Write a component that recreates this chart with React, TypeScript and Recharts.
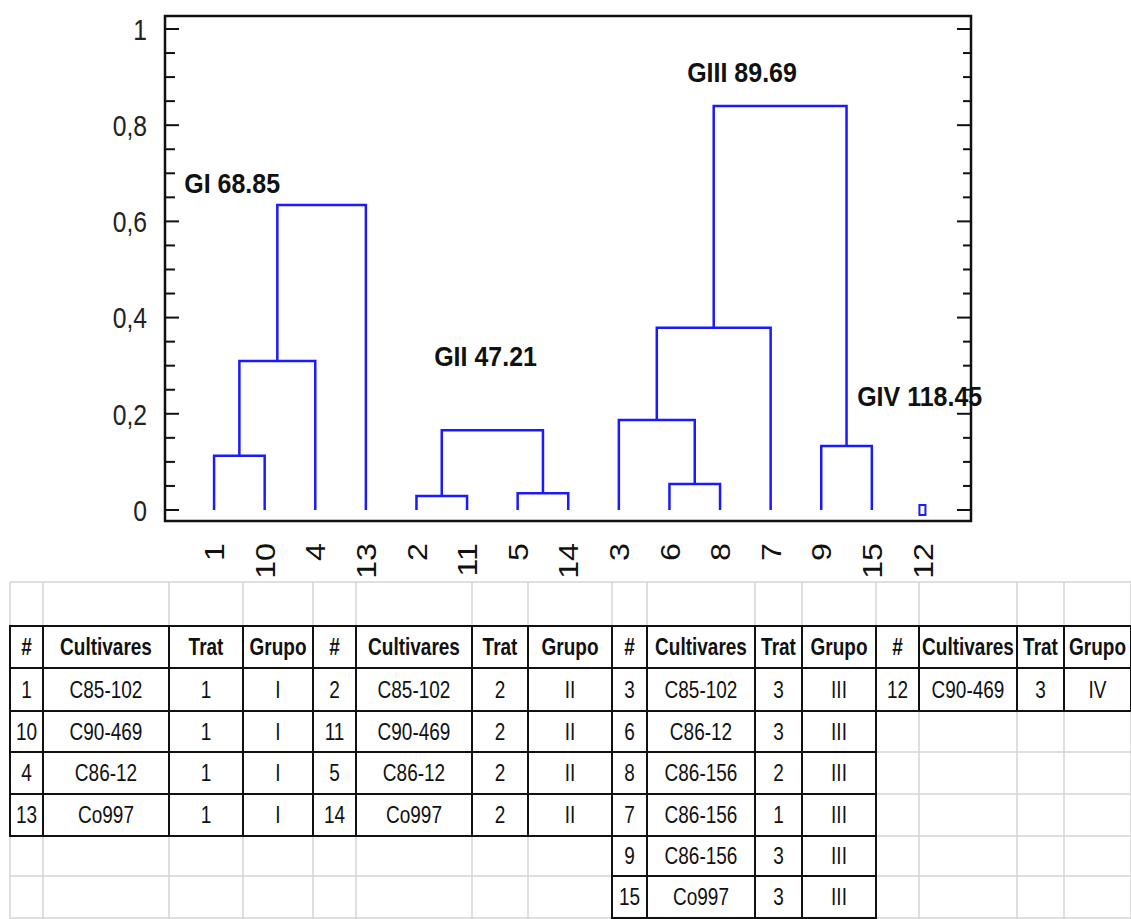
import { ComposedChart, Line, Scatter, XAxis, YAxis, ReferenceArea } from "recharts";

// leaves in dendrogram order
const leafOrder = ["1", "10", "4", "13", "2", "11", "5", "14", "3", "6", "8", "7", "9", "15", "12"];

// merges: left node, right node, distance (node "m#" = result of merge #)
const mergeLeft = ["1", "m0", "m1", "2", "5", "m3", "6", "3", "m7", "9", "m8"];
const mergeRight = ["10", "4", "13", "11", "14", "m4", "8", "m6", "7", "15", "m9"];
const mergeHeight = [0.113, 0.31, 0.634, 0.029, 0.035, 0.166, 0.054, 0.187, 0.379, 0.133, 0.84];

// leaf drawn on its own (tiny box at zero)
const isolatedLeaves = ["12"];

const groupLabels = ["GI 68.85", "GII 47.21", "GIII 89.69", "GIV 118.45"];
const groupLabelX = [-0.59, 4.35, 9.35, 12.71];
const groupLabelY = [0.659, 0.299, 0.89, 0.216];

const tableHeaders = ["#", "Cultivares", "Trat", "Grupo"];
const groupI = [
  ["1", "C85-102", "1", "I"],
  ["10", "C90-469", "1", "I"],
  ["4", "C86-12", "1", "I"],
  ["13", "Co997", "1", "I"],
];
const groupII = [
  ["2", "C85-102", "2", "II"],
  ["11", "C90-469", "2", "II"],
  ["5", "C86-12", "2", "II"],
  ["14", "Co997", "2", "II"],
];
const groupIII = [
  ["3", "C85-102", "3", "III"],
  ["6", "C86-12", "3", "III"],
  ["8", "C86-156", "2", "III"],
  ["7", "C86-156", "1", "III"],
  ["9", "C86-156", "3", "III"],
  ["15", "Co997", "3", "III"],
];
const groupIV = [["12", "C90-469", "3", "IV"]];

const PLOT_LEFT = 165;
const PLOT_RIGHT = 971;
const X_DOMAIN: [number, number] = [-0.97, 14.96];
const Y_DOMAIN: [number, number] = [-0.0229, 1.027];
const BLUE = "#1a1aff";
const FONT = "'Liberation Sans', Arial, sans-serif";

// spreadsheet grid under the chart
const colEdges = [10, 43, 169, 243, 313, 356, 472, 528, 612, 647, 755, 802, 876, 919, 1017, 1064, 1131];
const rowEdges = [582, 626, 668, 711, 752, 794, 836, 876, 918];

function buildLinks() {
  const pos: Record<string, number> = {};
  const height: Record<string, number> = {};
  leafOrder.forEach((l, i) => {
    pos[l] = i;
    height[l] = 0;
  });
  return mergeHeight.map((h, i) => {
    const a = mergeLeft[i];
    const b = mergeRight[i];
    pos["m" + i] = (pos[a] + pos[b]) / 2;
    height["m" + i] = h;
    return [
      { x: pos[a], y: height[a] },
      { x: pos[a], y: h },
      { x: pos[b], y: h },
      { x: pos[b], y: height[b] },
    ];
  });
}

const YTick = (props: any) => {
  const { y, payload } = props;
  const v = payload.value;
  const major = Math.round(v * 100) % 20 === 0;
  const label = String(Math.round(v * 10) / 10).replace(".", ",");
  return (
    <g>
      <line x1={PLOT_LEFT} x2={PLOT_LEFT + (major ? 14 : 10)} y1={y} y2={y} stroke="#111" strokeWidth={2} />
      <line x1={PLOT_RIGHT - (major ? 14 : 8)} x2={PLOT_RIGHT} y1={y} y2={y} stroke="#111" strokeWidth={2} />
      {major && (
        <text
          x={0}
          y={0}
          dy="0.36em"
          transform={`translate(147, ${y}) scale(0.95, 1.15)`}
          textAnchor="end"
          fontSize={26}
          fontFamily={FONT}
          fill="#222"
        >
          {label}
        </text>
      )}
    </g>
  );
};

const XTick = (props: any) => {
  const { x, payload } = props;
  const ty = 543;
  return (
    <text
      x={0}
      y={0}
      dy="0.36em"
      transform={`translate(${x}, ${ty}) scale(1, 1.15) rotate(-90)`}
      textAnchor="end"
      fontSize={28}
      fontFamily={FONT}
      fill="#111"
    >
      {leafOrder[payload.value]}
    </text>
  );
};

function Table({ col, rows }: { col: number; rows: string[][] }) {
  const all = [tableHeaders, ...rows];
  return (
    <g>
      {all.map((r, ri) =>
        r.map((cell, ci) => {
          const x0 = colEdges[col + ci];
          const x1 = colEdges[col + ci + 1];
          const y0 = rowEdges[1 + ri];
          const y1 = rowEdges[2 + ri];
          return (
            <g key={ri + "-" + ci}>
              <rect x={x0} y={y0} width={x1 - x0} height={y1 - y0} fill="white" stroke="#111" strokeWidth={2} />
              <text
                x={0}
                y={0}
                dy="0.36em"
                transform={`translate(${(x0 + x1) / 2}, ${(y0 + y1) / 2}) scale(0.95, 1.15)`}
                textAnchor="middle"
                fontSize={20}
                fontWeight={ri === 0 ? "bold" : "normal"}
                fontFamily={FONT}
                fill="#111"
              >
                {cell}
              </text>
            </g>
          );
        })
      )}
    </g>
  );
}

export default function App() {
  const links = buildLinks();
  const labelData = groupLabels.map((t, i) => ({ x: groupLabelX[i], y: groupLabelY[i], t }));
  const isolatedData = isolatedLeaves.map((l) => ({ x: leafOrder.indexOf(l), y: 0 }));
  const yTicks = Array.from({ length: 21 }, (_, i) => Math.round(i * 5) / 100);

  return (
    <div style={{ position: "absolute", left: 0, top: 0, width: 1131, height: 919, background: "white" }}>
      <div style={{ position: "absolute", left: 0, top: 0, width: 1131, height: 582, overflow: "hidden" }}>
        <ComposedChart width={1131} height={583} margin={{ top: 16, right: 160, bottom: 0, left: 0 }}>
          <XAxis
            dataKey="x"
            type="number"
            domain={X_DOMAIN}
            ticks={leafOrder.map((_, i) => i)}
            interval={0}
            axisLine={false}
            tickLine={false}
            tickSize={0}
            tickMargin={0}
            height={62}
            tick={<XTick />}
          />
          <YAxis
            type="number"
            domain={Y_DOMAIN}
            ticks={yTicks}
            interval={0}
            axisLine={false}
            tickLine={false}
            tickSize={0}
            tickMargin={0}
            width={165}
            tick={<YTick />}
          />
          <ReferenceArea
            x1={X_DOMAIN[0]}
            x2={X_DOMAIN[1]}
            y1={Y_DOMAIN[0]}
            y2={Y_DOMAIN[1]}
            fill="none"
            stroke="#111"
            strokeWidth={2.5}
            fillOpacity={0}
            ifOverflow="visible"
          />
          {links.map((d, i) => (
            <Line
              key={i}
              data={d}
              dataKey="y"
              type="linear"
              stroke={BLUE}
              strokeWidth={2.5}
              dot={false}
              activeDot={false}
              isAnimationActive={false}
            />
          ))}
          <Scatter
            data={isolatedData}
            dataKey="y"
            isAnimationActive={false}
            shape={(p: any) => (
              <rect x={p.cx - 3} y={p.cy - 5} width={6} height={10} fill="none" stroke={BLUE} strokeWidth={2} />
            )}
          />
          <Scatter
            data={labelData}
            dataKey="y"
            isAnimationActive={false}
            shape={(p: any) => (
              <text
                x={0}
                y={0}
                transform={`translate(${p.cx}, ${p.cy}) scale(1, 1.1)`}
                fontSize={25}
                fontWeight="bold"
                fontFamily={FONT}
                fill="#111"
              >
                {p.payload.t}
              </text>
            )}
          />
        </ComposedChart>
      </div>
      <svg width={1131} height={919} style={{ position: "absolute", left: 0, top: 0, pointerEvents: "none" }}>
        {colEdges.map((x, i) => (
          <line key={"v" + i} x1={x} x2={x} y1={rowEdges[0]} y2={919} stroke="#d4d4d4" strokeWidth={1.5} />
        ))}
        {rowEdges.map((y, i) => (
          <line key={"h" + i} x1={colEdges[0]} x2={1131} y1={y} y2={y} stroke="#d4d4d4" strokeWidth={1.5} />
        ))}
        <Table col={0} rows={groupI} />
        <Table col={4} rows={groupII} />
        <Table col={8} rows={groupIII} />
        <Table col={12} rows={groupIV} />
      </svg>
    </div>
  );
}
